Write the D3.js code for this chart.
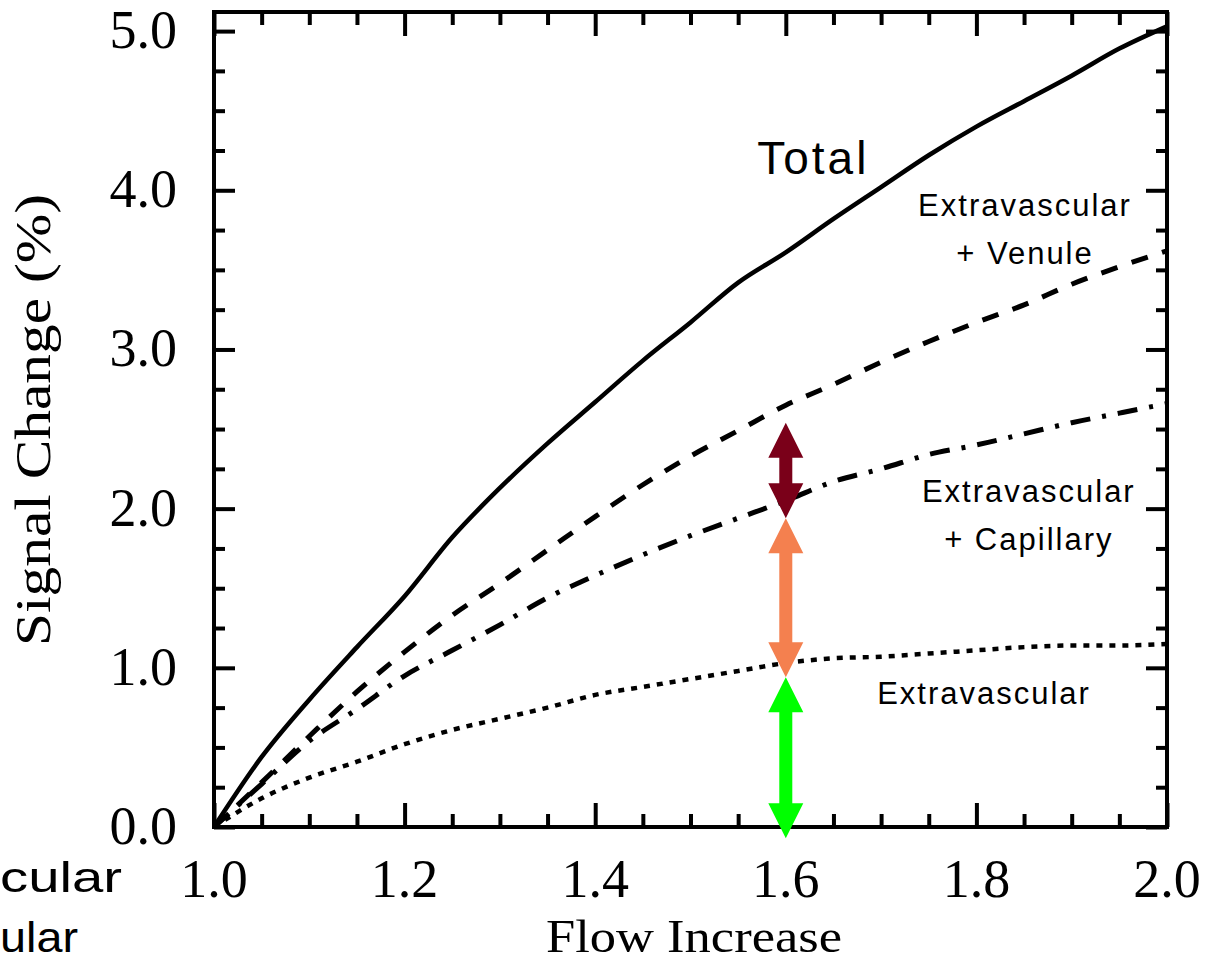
<!DOCTYPE html>
<html>
<head>
<meta charset="utf-8">
<script src="https://cdn.jsdelivr.net/npm/d3@7"></script>
<style>
  html, body { margin: 0; padding: 0; background: #fff; }
  svg { display: block; }
</style>
</head>
<body>
<svg id="chart" width="1205" height="962"></svg>
<script>
// ---- Data ----
const flow = [1.0, 1.05, 1.1, 1.15, 1.2, 1.25, 1.3, 1.35, 1.4, 1.45, 1.5, 1.55, 1.6, 1.65, 1.7, 1.75, 1.8, 1.85, 1.9, 1.95, 2.0];
const total = [0, 0.44, 0.80, 1.13, 1.45, 1.82, 2.13, 2.41, 2.67, 2.93, 3.17, 3.42, 3.61, 3.82, 4.02, 4.22, 4.40, 4.56, 4.72, 4.89, 5.03];
const extraVenule = [0, 0.28, 0.57, 0.85, 1.10, 1.33, 1.53, 1.74, 1.95, 2.15, 2.33, 2.49, 2.65, 2.78, 2.92, 3.05, 3.17, 3.28, 3.41, 3.52, 3.62];
const extraCapillary = [0, 0.27, 0.54, 0.74, 0.95, 1.11, 1.27, 1.44, 1.58, 1.71, 1.83, 1.94, 2.05, 2.17, 2.25, 2.34, 2.40, 2.47, 2.54, 2.60, 2.66];
const extravascular = [0, 0.18, 0.31, 0.41, 0.52, 0.61, 0.68, 0.75, 0.83, 0.88, 0.93, 0.98, 1.03, 1.06, 1.07, 1.09, 1.11, 1.13, 1.14, 1.14, 1.15];

const xTickValues = [1.0, 1.2, 1.4, 1.6, 1.8, 2.0];
const xTickLabels = ["1.0", "1.2", "1.4", "1.6", "1.8", "2.0"];
const yTickValues = [0, 1, 2, 3, 4, 5];
const yTickLabels = ["0.0", "1.0", "2.0", "3.0", "4.0", "5.0"];

// double arrows at flow = 1.6
const arrowX = 1.6;
const arrowStart = [-0.07, 0.94, 1.94];
const arrowEnd = [0.94, 1.94, 2.54];
const arrowColors = ["#00ff00", "#f4804f", "#7a0019"];

const curveLabels = [
  { lines: ["Extravascular", "+ Venule"], x: 1.851, y: [3.84, 3.54] },
  { lines: ["Extravascular", "+ Capillary"], x: 1.855, y: [2.04, 1.74] },
  { lines: ["Extravascular"], x: 1.808, y: [0.77] }
];

// ---- Scales ----
const svg = d3.select("#chart");
const x = d3.scaleLinear().domain([1.0, 2.0]).range([214, 1167]);
const y = d3.scaleLinear().domain([0, 5.12]).range([827, 12]);

const serif = "'Liberation Serif', 'Times New Roman', serif";
const sans = "'Liberation Sans', Arial, sans-serif";

// ---- Axes (ticks inward on all sides) ----
const xMinor = d3.range(1.0, 2.0001, 0.05).filter(v => Math.abs(v * 5 - Math.round(v * 5)) > 1e-6);
const yMinor = d3.range(0, 5.0001, 0.25).filter(v => Math.abs(v - Math.round(v)) > 1e-6);

function styleAxis(g) {
  g.select(".domain").remove();
  g.selectAll("line").attr("stroke", "#000").attr("stroke-width", 4);
  g.selectAll("text").remove();
}

// bottom
svg.append("g").attr("transform", `translate(0,${y(0)})`)
  .call(d3.axisTop(x).tickValues(xTickValues).tickSize(24)).call(styleAxis);
svg.append("g").attr("transform", `translate(0,${y(0)})`)
  .call(d3.axisTop(x).tickValues(xMinor).tickSize(13)).call(styleAxis);
// top
svg.append("g").attr("transform", `translate(0,${y(5.12)})`)
  .call(d3.axisBottom(x).tickValues(xTickValues).tickSize(24)).call(styleAxis);
svg.append("g").attr("transform", `translate(0,${y(5.12)})`)
  .call(d3.axisBottom(x).tickValues(xMinor).tickSize(13)).call(styleAxis);
// left
svg.append("g").attr("transform", `translate(${x(1.0)},0)`)
  .call(d3.axisRight(y).tickValues(yTickValues).tickSize(21)).call(styleAxis);
svg.append("g").attr("transform", `translate(${x(1.0)},0)`)
  .call(d3.axisRight(y).tickValues(yMinor).tickSize(11)).call(styleAxis);
// right
svg.append("g").attr("transform", `translate(${x(2.0)},0)`)
  .call(d3.axisLeft(y).tickValues(yTickValues).tickSize(21)).call(styleAxis);
svg.append("g").attr("transform", `translate(${x(2.0)},0)`)
  .call(d3.axisLeft(y).tickValues(yMinor).tickSize(11)).call(styleAxis);

// frame
svg.append("rect")
  .attr("x", x(1.0)).attr("y", y(5.12))
  .attr("width", x(2.0) - x(1.0)).attr("height", y(0) - y(5.12))
  .attr("fill", "none").attr("stroke", "#000").attr("stroke-width", 4);

// tick labels
svg.append("g").selectAll("text").data(xTickValues).join("text")
  .attr("x", d => x(d)).attr("y", 897)
  .attr("text-anchor", "middle")
  .attr("font-family", serif).attr("font-size", 54)
  .attr("fill", "#000")
  .text((d, i) => xTickLabels[i]);

svg.append("g").selectAll("text").data(yTickValues).join("text")
  .attr("x", 177).attr("y", d => y(d) + 17)
  .attr("text-anchor", "end")
  .attr("font-family", serif).attr("font-size", 54)
  .attr("fill", "#000")
  .text((d, i) => yTickLabels[i]);

// axis titles
svg.append("text")
  .attr("x", 694).attr("y", 952)
  .attr("text-anchor", "middle")
  .attr("font-family", serif).attr("font-size", 46)
  .attr("textLength", 296).attr("lengthAdjust", "spacingAndGlyphs")
  .attr("fill", "#000")
  .text("Flow Increase");

svg.append("text")
  .attr("transform", "translate(50,420) rotate(-90)")
  .attr("text-anchor", "middle")
  .attr("font-family", serif).attr("font-size", 50)
  .attr("textLength", 452).attr("lengthAdjust", "spacingAndGlyphs")
  .attr("fill", "#000")
  .text("Signal Change (%)");

// ---- Curves ----
const line = d3.line().x((d, i) => x(flow[i])).y(d => y(d)).curve(d3.curveMonotoneX);

const series = [
  { values: total, dash: null, width: 4.5 },
  { values: extraVenule, dash: "17,15", width: 5 },
  { values: extraCapillary, dash: "20,12,4,12", width: 5 },
  { values: extravascular, dash: "6,7", width: 4.5 }
];

svg.append("g").selectAll("path").data(series).join("path")
  .attr("d", d => line(d.values))
  .attr("fill", "none")
  .attr("stroke", "#000")
  .attr("stroke-width", d => d.width)
  .attr("stroke-dasharray", d => d.dash);

// ---- Curve labels ----
svg.append("text")
  .attr("x", x(1.570)).attr("y", y(4.1))
  .attr("font-family", sans).attr("font-size", 46)
  .attr("letter-spacing", 3)
  .attr("fill", "#000")
  .text("Total");

curveLabels.forEach(lab => {
  lab.lines.forEach((t, i) => {
    svg.append("text")
      .attr("x", x(lab.x)).attr("y", y(lab.y[i]))
      .attr("text-anchor", "middle")
      .attr("font-family", sans).attr("font-size", 31)
      .attr("letter-spacing", 2)
      .attr("fill", "#000")
      .text(t);
  });
});

// ---- Double arrows ----
const headW = 17.5, headL = 35, shaftW = 6.5;
arrowStart.forEach((s, i) => {
  const cx = x(arrowX);
  const yb = y(s), yt = y(arrowEnd[i]);
  const pts = [
    [cx, yt], [cx + headW, yt + headL], [cx + shaftW, yt + headL],
    [cx + shaftW, yb - headL], [cx + headW, yb - headL], [cx, yb],
    [cx - headW, yb - headL], [cx - shaftW, yb - headL],
    [cx - shaftW, yt + headL], [cx - headW, yt + headL]
  ];
  svg.append("path")
    .attr("d", d3.line()(pts) + "Z")
    .attr("fill", arrowColors[i]);
});

// ---- Cut-off text at left edge (from neighbouring content) ----
svg.append("text")
  .attr("x", 0).attr("y", 892)
  .attr("font-family", sans).attr("font-size", 42)
  .attr("textLength", 122).attr("lengthAdjust", "spacingAndGlyphs")
  .attr("fill", "#000")
  .text("cular");
svg.append("text")
  .attr("x", 0).attr("y", 952)
  .attr("font-family", sans).attr("font-size", 42)
  .attr("textLength", 78).attr("lengthAdjust", "spacingAndGlyphs")
  .attr("fill", "#000")
  .text("ular");
</script>
</body>
</html>
